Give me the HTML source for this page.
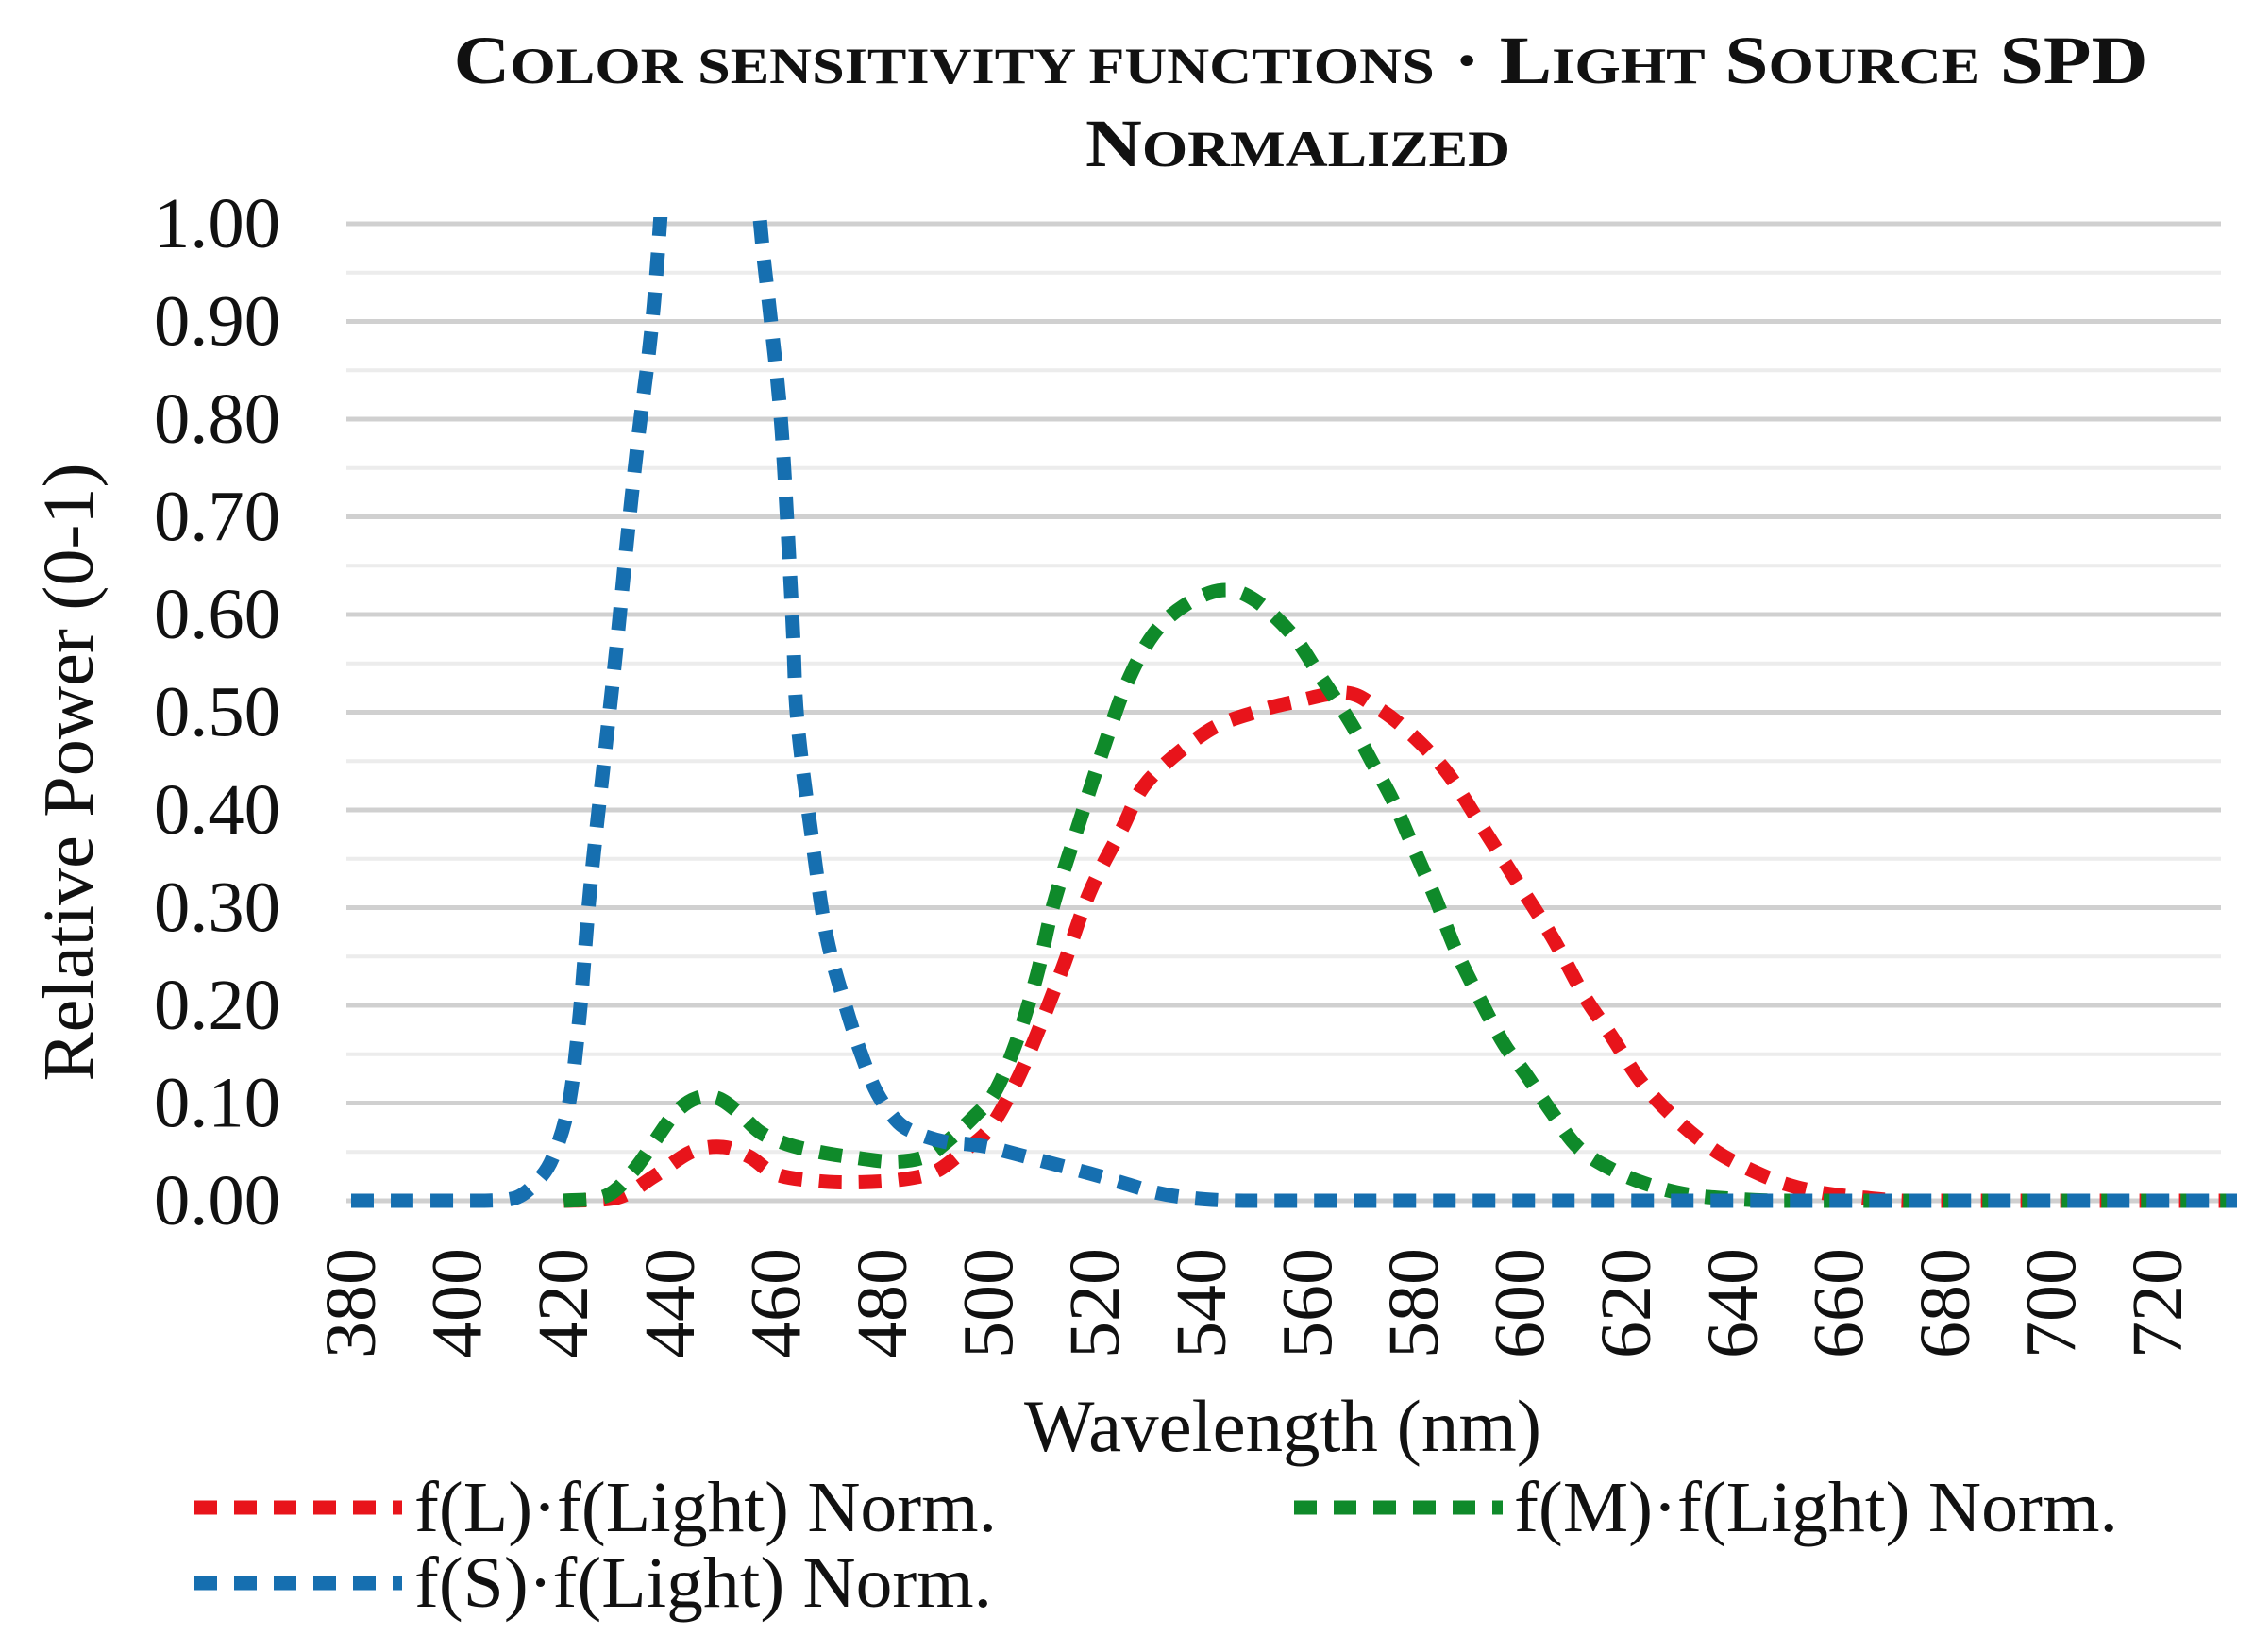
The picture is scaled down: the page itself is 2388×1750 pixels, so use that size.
<!DOCTYPE html>
<html><head><meta charset="utf-8"><style>
html,body{margin:0;padding:0;background:#fff;}
svg{display:block;}
text{font-family:"Liberation Serif",serif;fill:#111;}
</style></head><body>
<svg id="s" width="2388" height="1750" viewBox="0 0 2388 1750" xmlns="http://www.w3.org/2000/svg">
<defs><clipPath id="cp"><rect x="340" y="230" width="2030" height="1060"/></clipPath></defs>
<g id="grid"></g>
<text x="1378" y="88" text-anchor="middle" font-size="72" font-weight="bold" textLength="1795" lengthAdjust="spacingAndGlyphs">C<tspan font-size="54">OLOR SENSITIVITY FUNCTIONS</tspan> · L<tspan font-size="54">IGHT</tspan> S<tspan font-size="54">OURCE</tspan> SPD</text>
<text x="1375" y="176" text-anchor="middle" font-size="72" font-weight="bold" textLength="450" lengthAdjust="spacingAndGlyphs">N<tspan font-size="54">ORMALIZED</tspan></text>
<g id="yt" font-size="76" text-anchor="end"></g>
<text transform="translate(98,818) rotate(-90)" text-anchor="middle" font-size="76" textLength="655" lengthAdjust="spacingAndGlyphs">Relative Power (0-1)</text>
<g id="xt" font-size="76"></g>
<text x="1359" y="1537" text-anchor="middle" font-size="78" textLength="548" lengthAdjust="spacingAndGlyphs">Wavelength (nm)</text>
<g id="series" clip-path="url(#cp)"></g>
<line x1="206" y1="1597" x2="426" y2="1597" stroke="#e8141b" stroke-width="15" stroke-dasharray="24 18"/>
<text x="439" y="1622" font-size="76" textLength="617" lengthAdjust="spacingAndGlyphs">f(L)·f(Light) Norm.</text>
<line x1="1371" y1="1597" x2="1592" y2="1597" stroke="#0f8a2a" stroke-width="15" stroke-dasharray="24 18"/>
<text x="1604" y="1622" font-size="76" textLength="640" lengthAdjust="spacingAndGlyphs">f(M)·f(Light) Norm.</text>
<line x1="206" y1="1677" x2="426" y2="1677" stroke="#166fb0" stroke-width="15" stroke-dasharray="24 18"/>
<text x="439" y="1702" font-size="76" textLength="612" lengthAdjust="spacingAndGlyphs">f(S)·f(Light) Norm.</text>
</svg>
<script>
var NS="http://www.w3.org/2000/svg";
function X(nm){return 372+(nm-380)*5.63;}
function Y(v){return 1272-v*1035;}
function el(p,t,a,txt){var e=document.createElementNS(NS,t);for(var k in a)e.setAttribute(k,a[k]);if(txt!=null)e.textContent=txt;p.appendChild(e);return e;}
var g=document.getElementById('grid');
for(var i=0;i<=20;i++){var v=i*0.05,y=Y(v);
 el(g,'line',{x1:367,x2:2353,y1:y,y2:y,stroke:i%2?'#ececec':'#d0d0d0','stroke-width':i%2?4:5});}
var yt=document.getElementById('yt');
for(var i=0;i<=10;i++){el(yt,'text',{x:297,y:Y(i/10)+25,textLength:134,lengthAdjust:'spacingAndGlyphs'},(i/10).toFixed(2));}
var xt=document.getElementById('xt');
for(var n=380;n<=720;n+=20){var x=X(n)+14;el(xt,'text',{transform:'translate('+(x+11)+',1322) rotate(-90)','text-anchor':'end',textLength:117,lengthAdjust:'spacingAndGlyphs'},String(n));}
function path(pts){
 var last=pts[pts.length-1];for(var n=Math.ceil(last[0]/10)*10;n<=740;n+=10)if(n>last[0]+5)pts.push([n,0]);
 pts=pts.map(function(p){return [X(p[0]),Y(p[1])];});
 var d='M'+pts[0][0]+','+pts[0][1];
 for(var i=0;i<pts.length-1;i++){var p0=pts[i-1]||pts[i],p1=pts[i],p2=pts[i+1],p3=pts[i+2]||p2;
  var c1y=p1[1]+(p2[1]-p0[1])/6,c2y=p2[1]-(p3[1]-p1[1])/6;
  c1y=Math.min(c1y,1272);c2y=Math.min(c2y,1272);
  d+=' C'+(p1[0]+(p2[0]-p0[0])/6)+','+c1y+' '+(p2[0]-(p3[0]-p1[0])/6)+','+c2y+' '+p2[0]+','+p2[1];}
 return d;}
var R=[[420,0],[430,0.003],[437,0.025],[444,0.05],[450,0.055],[455,0.045],[460,0.027],[468,0.02],[476,0.019],[484,0.022],[490,0.03],[495,0.05],[500,0.073],[505,0.12],[509,0.17],[514,0.24],[519,0.316],[525,0.38],[530,0.43],[541,0.48],[550,0.5],[557,0.51],[567,0.52],[573,0.505],[579,0.48],[586,0.44],[592,0.39],[599,0.33],[606,0.27],[612,0.21],[617,0.17],[623,0.12],[630,0.08],[637,0.05],[644,0.03],[650,0.017],[657,0.008],[665,0.003],[672,0],[680,0]];
var G=[[420,0],[428,0.005],[433,0.03],[437,0.06],[441,0.09],[445,0.105],[449,0.105],[453,0.09],[457,0.07],[462,0.058],[468,0.05],[475,0.044],[482,0.04],[488,0.045],[492,0.06],[497,0.085],[501,0.11],[505,0.16],[509,0.23],[512,0.3],[516,0.37],[522,0.47],[526,0.53],[531,0.58],[537,0.61],[544,0.625],[550,0.615],[557,0.58],[562,0.54],[568,0.49],[572,0.45],[576,0.41],[580,0.36],[584,0.31],[588,0.255],[593,0.2],[597,0.16],[601,0.13],[606,0.09],[611,0.054],[618,0.03],[625,0.015],[632,0.006],[640,0.002],[648,0],[655,0]];
var B=[[380,0],[390,0],[400,0],[405,0],[411,0.003],[415,0.02],[418,0.045],[421,0.1],[423,0.19],[425,0.32],[428,0.47],[430,0.57],[432,0.68],[434,0.78],[437,0.92],[440,1.15],[444,1.45],[447,1.6],[450,1.5],[454,1.2],[457,1.0],[459,0.9],[461,0.79],[463,0.6],[464,0.49],[467,0.36],[469.5,0.27],[473,0.2],[476,0.15],[479,0.11],[483,0.08],[487,0.068],[492,0.06],[496,0.058],[500,0.055],[505,0.048],[512,0.038],[519,0.028],[526,0.017],[531,0.009],[536,0.004],[542,0.001],[548,0],[555,0]];
var S=document.getElementById('series');
[[R,'#e8141b'],[G,'#0f8a2a'],[B,'#166fb0']].forEach(function(s){
 el(S,'path',{d:path(s[0]),fill:'none',stroke:s[1],'stroke-width':15,'stroke-dasharray':'24 18'});});
</script>
</body></html>
